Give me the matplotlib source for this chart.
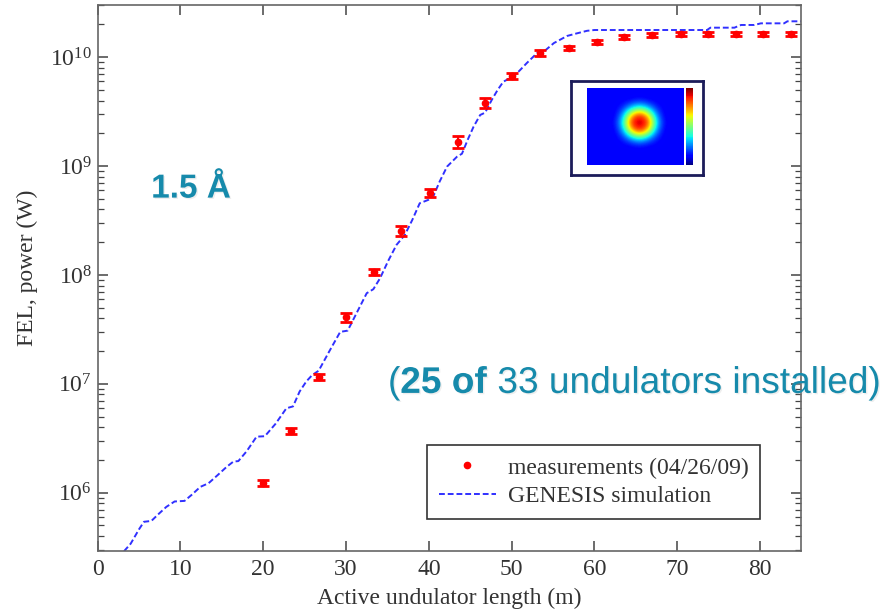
import numpy as np
import matplotlib
matplotlib.use("Agg")
import matplotlib.pyplot as plt
import matplotlib.patheffects as pe
from matplotlib.lines import Line2D

# --[Measurements (04/26/09)]--------------------------------------------------
meas_len = [20.0, 23.4, 26.7, 30.0, 33.4, 36.7, 40.1, 43.5, 46.8, 50.1,
            53.45, 56.9, 60.25, 63.6, 67.0, 70.4, 73.7, 77.05, 80.4, 83.7]
meas_power = [1.22e6, 3.7e6, 1.15e7, 4.08e7, 1.07e8, 2.54e8, 5.7e8, 1.68e9,
              3.83e9, 6.73e9, 1.09e10, 1.22e10, 1.39e10, 1.53e10, 1.60e10,
              1.65e10, 1.65e10, 1.65e10, 1.65e10, 1.65e10]
meas_relerr = [0.066, 0.066, 0.066, 0.088, 0.066, 0.11, 0.088, 0.135, 0.11,
               0.066, 0.066, 0.043, 0.043, 0.043, 0.043, 0.043, 0.043,
               0.043, 0.043, 0.043]

# --[GENESIS simulation]-------------------------------------------------------
sim_len = [3.2, 4.0, 5.0, 5.6, 6.5, 7.3, 8.3, 9.3, 10.5, 11.4, 12.4, 13.4,
           14.5, 15.6, 16.4, 17.0, 18.0, 19.2, 20.2, 21.5, 22.8, 23.6, 24.4,
           25.2, 25.9, 26.7, 28.0, 29.3, 30.2, 31.3, 32.5, 33.3, 34.1, 35.1,
           36.1, 37.1, 38.0, 38.9, 39.95, 40.6, 41.3, 42.2, 43.4, 44.0, 44.7,
           45.4, 46.2, 46.8, 47.6, 48.3, 49.0, 49.6, 50.2, 51.0, 51.8, 53.05,
           53.9, 55.1, 56.7, 57.9, 59.1, 60.0, 73.6, 74.0, 76.9, 77.7, 79.3,
           80.1, 82.9, 83.3, 85.0]
sim_power = [2.9e5, 3.4e5, 4.6e5, 5.4e5, 5.5e5, 6.3e5, 7.4e5, 8.3e5, 8.4e5,
             9.6e5, 1.13e6, 1.22e6, 1.45e6, 1.73e6, 1.93e6, 1.95e6, 2.4e6,
             3.27e6, 3.3e6, 4.3e6, 5.96e6, 6.2e6, 8.5e6, 1.05e7, 1.2e7,
             1.32e7, 2.0e7, 3.0e7, 3.08e7, 4.5e7, 6.8e7, 7.4e7, 9.3e7, 1.35e8,
             1.89e8, 2.33e8, 3.2e8, 4.56e8, 4.9e8, 5.4e8, 7.2e8, 9.9e8, 1.22e9,
             1.3e9, 1.75e9, 2.3e9, 2.95e9, 3.1e9, 4.06e9, 5.0e9, 5.97e9, 6.3e9,
             6.6e9, 7.6e9, 8.8e9, 1.09e10, 1.13e10, 1.35e10, 1.57e10, 1.66e10,
             1.75e10, 1.78e10, 1.78e10, 1.87e10, 1.87e10, 1.98e10, 1.98e10,
             2.05e10, 2.05e10, 2.14e10, 2.14e10]

# --[Beam spot picture (inset), intensity]-------------------------------------
bg = 0.11
beam_spot = [
    [bg, bg, bg, bg, bg, bg, bg, bg, bg, bg, bg, bg],
    [bg, bg, bg, bg, bg, bg, 0.13, bg, bg, bg, bg, bg],
    [bg, bg, bg, bg, 0.16, 0.30, 0.40, 0.30, 0.16, bg, bg, bg],
    [bg, bg, bg, bg, 0.30, 0.70, 0.90, 0.70, 0.30, bg, bg, bg],
    [bg, bg, bg, 0.13, 0.40, 0.90, 0.97, 0.90, 0.40, 0.13, bg, bg],
    [bg, bg, bg, bg, 0.30, 0.70, 0.90, 0.70, 0.30, bg, bg, bg],
    [bg, bg, bg, bg, 0.16, 0.30, 0.40, 0.30, 0.16, bg, bg, bg],
    [bg, bg, bg, bg, bg, bg, 0.13, bg, bg, bg, bg, bg],
    [bg, bg, bg, bg, bg, bg, bg, bg, bg, bg, bg, bg],
    [bg, bg, bg, bg, bg, bg, bg, bg, bg, bg, bg, bg],
]

teal = "#168aab"
blue = "#3030ff"
grey = "#333333"

plt.rcParams["font.family"] = ["Liberation Serif", "DejaVu Serif"]
plt.rcParams["mathtext.fontset"] = "stix"

fig = plt.figure(figsize=(8.87, 6.12), dpi=100)
ax = fig.add_axes([0.110, 0.1002, 0.7936, 0.8916])

ax.plot(sim_len, sim_power, color=blue, ls=(0, (3, 1.5)), lw=1.4)
meas_err = np.array(meas_power) * np.array(meas_relerr)
ax.errorbar(meas_len, meas_power, yerr=meas_err, fmt="o", ms=4.5,
            color="red", ecolor="red", elinewidth=1.5, capsize=4, capthick=2)

ax.set_yscale("log")
ax.set_xlim(0, 85)
ax.set_ylim(10 ** 5.467, 10 ** 10.48)
ax.set_xticks(range(0, 90, 10))

ax.tick_params(which="both", direction="in", top=True, right=True,
               color="#444444", labelcolor=grey, labelsize=17)
ax.tick_params(which="major", length=7, width=1.1)
ax.tick_params(which="minor", length=4, width=0.9)
ax.tick_params(axis="x", pad=6)
ax.tick_params(axis="y", pad=4)
for s in ax.spines.values():
    s.set_color("#666666")
    s.set_linewidth(1.2)

ax.set_xlabel("Active undulator length (m)", fontsize=17, color=grey)
ax.set_ylabel("FEL, power (W)", fontsize=17, color=grey)
ax.xaxis.label.set_va("center")
ax.yaxis.label.set_va("center")
ax.xaxis.set_label_coords(0.5, -0.0867)
ax.yaxis.set_label_coords(-0.100, 0.518)

handles = [Line2D([], [], color="red", marker="o", ms=4.5, ls="none"),
           Line2D([], [], color=blue, ls=(0, (3, 1.5)), lw=1.4)]
leg = ax.legend(handles, ["measurements (04/26/09)", "GENESIS simulation"],
                loc="lower right", bbox_to_anchor=(0.9413, 0.0581),
                borderaxespad=0, fontsize=17, fancybox=False, framealpha=1,
                edgecolor="#333333", handlelength=2.4, borderpad=0.5,
                labelspacing=0.3, handletextpad=0.5)
leg.get_frame().set_linewidth(1.2)
for t in leg.get_texts():
    t.set_color(grey)

# --[Inset: beam spot thumbnail]-----------------------------------------------
frame = fig.add_axes([0.6437, 0.7141, 0.1488, 0.1536])
frame.set_xticks([])
frame.set_yticks([])
for s in frame.spines.values():
    s.set_color("#1c1c5a")
    s.set_linewidth(2)

img_ax = fig.add_axes([0.6614, 0.7304, 0.1089, 0.1253])
im = img_ax.imshow(beam_spot, cmap="jet", vmin=0, vmax=1,
                   interpolation="bicubic", aspect="auto")
img_ax.set_xticks([])
img_ax.set_yticks([])
for s in img_ax.spines.values():
    s.set_visible(False)

cax = fig.add_axes([0.7734, 0.7304, 0.0083, 0.1253])
cb = fig.colorbar(im, cax=cax)
cb.set_ticks([])
cb.outline.set_visible(False)

# --[Annotations]--------------------------------------------------------------
shadow = [pe.withSimplePatchShadow(offset=(1, -1),
                                   shadow_rgbFace="#aaaaaa", alpha=0.2)]
fig.text(0.2153, 0.691, "1.5 Å", fontsize=24, weight="bold", color=teal,
         family="Liberation Sans", ha="center", va="center",
         path_effects=shadow)

t1 = fig.text(0.4374, 0.358, "(", fontsize=26.7, color=teal,
              family="Liberation Sans", va="baseline", path_effects=shadow)
t2 = ax.annotate("25 of ", xy=(1, 0), xycoords=t1, va="bottom",
                 fontsize=26.7, weight="bold", color=teal,
                 family="Liberation Sans", path_effects=shadow)
t3 = ax.annotate("33 undulators installed)", xy=(1, 0), xycoords=t2,
                 va="bottom", fontsize=26.7, color=teal,
                 family="Liberation Sans", path_effects=shadow)

fig.savefig("out.png", dpi=100)
